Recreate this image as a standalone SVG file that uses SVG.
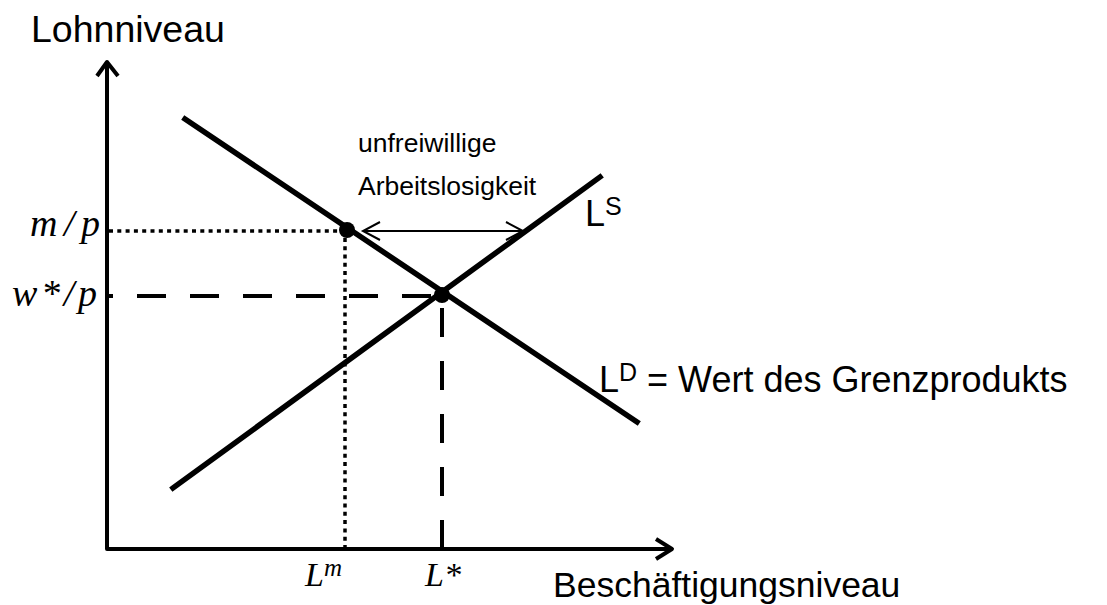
<svg xmlns="http://www.w3.org/2000/svg" width="1107" height="605" viewBox="0 0 1107 605">
<style>
.sans{font-family:"Liberation Sans",Arial,sans-serif;fill:#000}
.math{font-family:"Liberation Serif","Times New Roman",serif;font-style:italic;fill:#000}
.axis{stroke:#000;stroke-width:4;fill:none;stroke-linejoin:round}
.curve{stroke:#000;stroke-width:5.5;fill:none;stroke-linecap:square}
.dot{stroke:#000;stroke-width:3.5;fill:none;stroke-dasharray:4 4.3}
.dash{stroke:#000;stroke-width:4;fill:none;stroke-dasharray:29 24}
.thin{stroke:#000;stroke-width:2;fill:none}
</style>
<rect width="1107" height="605" fill="#fff"/>
<g id="connectors">
  <path class="dot" d="M109 231 H347"/>
  <path class="dot" d="M345 549 V233"/>
  <path class="dash" stroke-dashoffset="23" d="M107 296 H442"/>
  <path class="dash" d="M442 549 V296"/>
</g>
<g id="axes">
  <path class="axis" d="M107 63 V549 H672"/>
  <path class="axis" d="M97 76 L107 62 L118 76"/>
  <path class="axis" d="M656 539 L672 549 L656 559"/>
  <text class="sans" x="31" y="42" font-size="37.5">Lohnniveau</text>
  <text class="sans" x="553" y="597" font-size="35.5">Beschäftigungsniveau</text>
</g>
<g id="LD">
  <path class="curve" d="M185 119 L637 422"/>
  <text class="sans" x="599" y="392" font-size="36">L<tspan font-size="25" dy="-11">D</tspan><tspan dy="11"> = Wert des Grenzprodukts</tspan></text>
</g>
<g id="LS">
  <path class="curve" d="M173 488 L600 177"/>
  <text class="sans" x="585" y="226" font-size="36">L<tspan font-size="25" dy="-11">S</tspan></text>
</g>
<g id="gap">
  <path class="thin" d="M363 231 H522"/>
  <path class="thin" d="M380 222 L363 231 L380 240"/>
  <path class="thin" d="M506 222 L523 231 L506 240"/>
  <text class="sans" x="358" y="152" font-size="26.5">unfreiwillige</text>
  <text class="sans" x="358" y="195" font-size="26.5">Arbeitslosigkeit</text>
</g>
<g id="points">
  <circle cx="347" cy="230" r="8"/>
  <circle cx="442" cy="295" r="8"/>
</g>
<g id="labels">
  <text class="math" x="30" y="236" font-size="38" textLength="70" lengthAdjust="spacing">m/p</text>
  <text class="math" x="12" y="306" font-size="38" textLength="85" lengthAdjust="spacing">w*/p</text>
  <text class="math" x="305" y="586" font-size="34">L<tspan font-size="25" dy="-10">m</tspan></text>
  <text class="math" x="425" y="586" font-size="34">L<tspan>*</tspan></text>
</g>
</svg>
